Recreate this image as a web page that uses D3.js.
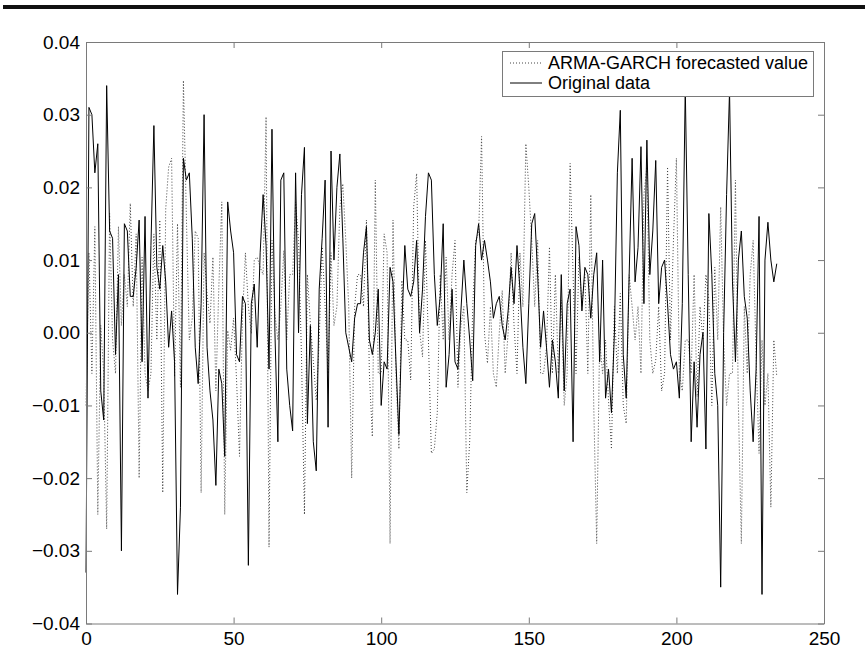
<!DOCTYPE html>
<html>
<head>
<meta charset="utf-8">
<script src="https://cdn.jsdelivr.net/npm/d3@7"></script>
<style>
  html, body { margin: 0; padding: 0; background: #fff; }
  svg { display: block; }
  text { font-family: "Liberation Sans", Arial, Helvetica, sans-serif; fill: #000; }
</style>
</head>
<body>
<svg id="chart" width="865" height="667"></svg>
<script>
// ---- data ----
const seriesNames = ["ARMA-GARCH forecasted value", "Original data"];
const xTicks = [0, 50, 100, 150, 200, 250];
const yTicks = [-0.04, -0.03, -0.02, -0.01, 0.00, 0.01, 0.02, 0.03, 0.04];

const original = [
  -0.033, 0.031, 0.030, 0.022, 0.026, -0.008, -0.012, 0.034, 0.014, 0.013,
  -0.003, 0.008, -0.030, 0.015, 0.014, 0.005, 0.005, 0.009, 0.0155, -0.004,
  0.016, -0.009, 0.012, 0.0285, 0.009, 0.006, 0.012, 0.007, -0.002, 0.003,
  -0.004, -0.036, -0.024, 0.024, 0.021, 0.022, 0.013, -0.002, -0.007, 0.004,
  0.030, -0.002, -0.008, -0.012, -0.021, -0.005, -0.007, -0.017, 0.018, 0.014,
  0.011, -0.003, -0.004, 0.005, 0.004, -0.032, 0.004, 0.0067, -0.002, 0.011,
  0.019, 0.012, -0.005, 0.028, 0.000, -0.015, 0.021, 0.022, -0.005, -0.010,
  -0.0135, 0.022, 0.000, 0.019, 0.0255, -0.0125, 0.001, -0.015, -0.019, 0.006,
  0.013, 0.021, -0.013, 0.025, 0.010, 0.020, 0.0246, 0.013, 0.000, -0.002,
  -0.004, 0.002, 0.004, 0.004, 0.011, 0.0146, -0.001, -0.003, 0.000, 0.006,
  -0.010, -0.004, -0.005, 0.009, 0.007, -0.004, -0.014, 0.001, 0.012, 0.006,
  0.005, 0.007, 0.0127, 0.000, 0.006, 0.016, 0.022, 0.021, 0.008, 0.001,
  0.005, 0.015, -0.0075, -0.003, 0.006, -0.004, -0.005, 0.003, 0.010, 0.004,
  -0.001, -0.0066, 0.012, 0.015, 0.010, 0.0127, 0.010, 0.007, 0.002, 0.004,
  0.005, 0.001, -0.001, 0.003, 0.009, 0.004, 0.012, 0.006, -0.002, -0.007,
  0.004, 0.015, 0.0164, 0.008, -0.002, 0.003, -0.002, -0.0075, -0.001, -0.004,
  -0.009, 0.008, -0.008, 0.004, 0.006, -0.015, 0.0146, 0.012, 0.003, 0.009,
  0.008, 0.002, 0.008, 0.011, -0.004, 0.010, -0.009, -0.005, -0.011, 0.000,
  0.022, 0.0306, -0.003, -0.009, 0.008, 0.024, 0.007, 0.0117, 0.0256, 0.004,
  0.0265, 0.008, 0.014, 0.0237, 0.004, 0.009, 0.010, 0.004, -0.003, -0.005,
  -0.004, -0.009, 0.004, 0.0338, 0.008, -0.015, -0.004, -0.013, -0.003, 0.000,
  -0.016, 0.0164, 0.008, -0.0056, -0.010, -0.035, 0.000, 0.019, 0.0333, 0.007,
  -0.004, 0.010, 0.014, 0.005, 0.002, -0.008, -0.015, -0.005, 0.016, -0.036,
  0.010, 0.0152, 0.010, 0.007, 0.0095
];

const forecast = [
  -0.010, 0.011, -0.0056, 0.0146, -0.025, 0.001, -0.0056, -0.027, 0.0164, -0.001,
  -0.0056, 0.0146, 0.001, 0.008, 0.0036, 0.0178, 0.0036, 0.0136, -0.020, 0.0104,
  -0.0056, -0.008, -0.0056, 0.0136, -0.001, 0.0155, -0.022, 0.017, 0.0228, 0.024,
  -0.006, 0.015, -0.0075, 0.0347, 0.016, -0.001, 0.002, 0.014, 0.013, -0.022,
  0.011, 0.0054, 0.0013, 0.0104, -0.008, 0.0063, 0.018, -0.025, 0.0003, -0.0024,
  0.002, -0.0065, -0.017, 0.002, 0.011, 0.0036, -0.0001, 0.010, 0.0104, 0.009,
  0.008, 0.0297, -0.0295, 0.0127, 0.0026, -0.001, 0.0036, 0.0113, -0.001, 0.008,
  0.008, 0.018, 0.0127, -0.0033, -0.025, 0.008, 0.0013, -0.0038, -0.0093, -0.001,
  0.0118, 0.0036, -0.0056, 0.011, 0.001, 0.0036, 0.0173, 0.0205, 0.0127, 0.0036,
  -0.020, 0.0036, 0.008, 0.008, 0.0036, 0.0155, -0.0056, -0.0143, 0.021, -0.0056,
  -0.0056, 0.0136, 0.011, -0.029, 0.0155, -0.0056, -0.016, 0.0072, -0.001, -0.001,
  -0.0065, 0.0173, 0.0219, 0.0003, -0.0033, 0.0127, -0.001, -0.0166, -0.016, -0.011,
  0.008, -0.001, 0.0104, -0.001, 0.008, 0.0127, -0.0075, 0.001, 0.0036, -0.022,
  -0.0148, 0.0036, 0.0127, 0.0137, 0.027, -0.0001, -0.0042, 0.0036, -0.0056, -0.0075,
  0.000, 0.0058, -0.0056, 0.000, 0.011, 0.001, -0.0056, 0.011, 0.0036, 0.026,
  0.020, 0.0127, 0.0036, 0.0127, -0.0056, -0.0056, -0.002, 0.0118, -0.0056, 0.008,
  -0.0056, 0.0045, -0.010, -0.0056, 0.0233, 0.008, -0.0056, 0.0104, 0.0036, 0.008,
  -0.0056, 0.019, -0.010, -0.029, -0.001, -0.0056, -0.001, -0.0093, -0.016, 0.0036,
  -0.0056, 0.0054, -0.010, -0.0125, 0.008, 0.0036, -0.001, 0.0036, -0.0056, 0.019,
  0.0228, -0.001, -0.0056, -0.0038, 0.0036, -0.008, -0.0056, 0.0228, -0.001, 0.0127,
  0.024, -0.0056, -0.008, -0.001, -0.001, -0.0056, 0.008, -0.0088, 0.0036, -0.001,
  0.008, 0.0045, -0.010, 0.009, -0.001, 0.0173, -0.001, -0.010, -0.0056, -0.0056,
  0.021, -0.010, -0.029, 0.0036, -0.0056, 0.008, 0.0127, -0.0033, -0.0166, -0.001,
  -0.010, -0.0056, -0.024, -0.001, -0.006
];

// ---- layout ----
const svg = d3.select("#chart");
const plotL = 86, plotR = 824, plotT = 42, plotB = 623.5;
const x = d3.scaleLinear().domain([0, 250]).range([plotL, plotR]);
const y = d3.scaleLinear().domain([-0.04, 0.04]).range([plotB, plotT]);
const axisColor = "#7a7a7a";

// top black rule
svg.append("rect").attr("x", 3).attr("y", 5).attr("width", 862).attr("height", 4).attr("fill", "#111");

// series
const line = d3.line().x((d, i) => x(i)).y(d => y(d));
svg.append("path").datum(forecast)
  .attr("d", line).attr("fill", "none")
  .attr("stroke", "#444").attr("stroke-width", 1)
  .attr("stroke-dasharray", "1,2");
svg.append("path").datum(original)
  .attr("d", line).attr("fill", "none")
  .attr("stroke", "#000").attr("stroke-width", 1);

// axes
const fmt = d3.format(".2f");
function styleAxis(g) {
  g.attr("font-family", null).attr("font-size", null);
  g.selectAll(".domain").attr("stroke", axisColor);
  g.selectAll(".tick line").attr("stroke", axisColor);
  g.selectAll(".tick text").attr("font-size", 19).attr("fill", "#000");
}
svg.append("g").attr("transform", `translate(0,${plotB})`)
  .call(d3.axisBottom(x).tickValues(xTicks).tickSize(-6).tickPadding(8).tickSizeOuter(0))
  .call(styleAxis);
svg.append("g").attr("transform", `translate(0,${plotT})`)
  .call(d3.axisTop(x).tickValues(xTicks).tickSize(-6).tickFormat("").tickSizeOuter(0))
  .call(styleAxis);
svg.append("g").attr("transform", `translate(${plotL},0)`)
  .call(d3.axisLeft(y).tickValues(yTicks).tickSize(-6).tickPadding(6).tickFormat(fmt).tickSizeOuter(0))
  .call(styleAxis);
svg.append("g").attr("transform", `translate(${plotR},0)`)
  .call(d3.axisRight(y).tickValues(yTicks).tickSize(-6).tickFormat("").tickSizeOuter(0))
  .call(styleAxis);

// legend
const lg = svg.append("g");
lg.append("rect").attr("x", 502.5).attr("y", 51.5).attr("width", 311).attr("height", 45)
  .attr("fill", "#fff").attr("stroke", axisColor).attr("stroke-width", 1);
const rows = [
  { name: seriesNames[0], dash: "1,2", stroke: "#444", yy: 63 },
  { name: seriesNames[1], dash: null, stroke: "#000", yy: 83 }
];
rows.forEach(r => {
  lg.append("line").attr("x1", 510).attr("x2", 542).attr("y1", r.yy).attr("y2", r.yy)
    .attr("stroke", r.stroke).attr("stroke-width", 1)
    .attr("stroke-dasharray", r.dash);
  lg.append("text").attr("x", 548).attr("y", r.yy + 6).attr("font-size", 18).text(r.name);
});
</script>
</body>
</html>
